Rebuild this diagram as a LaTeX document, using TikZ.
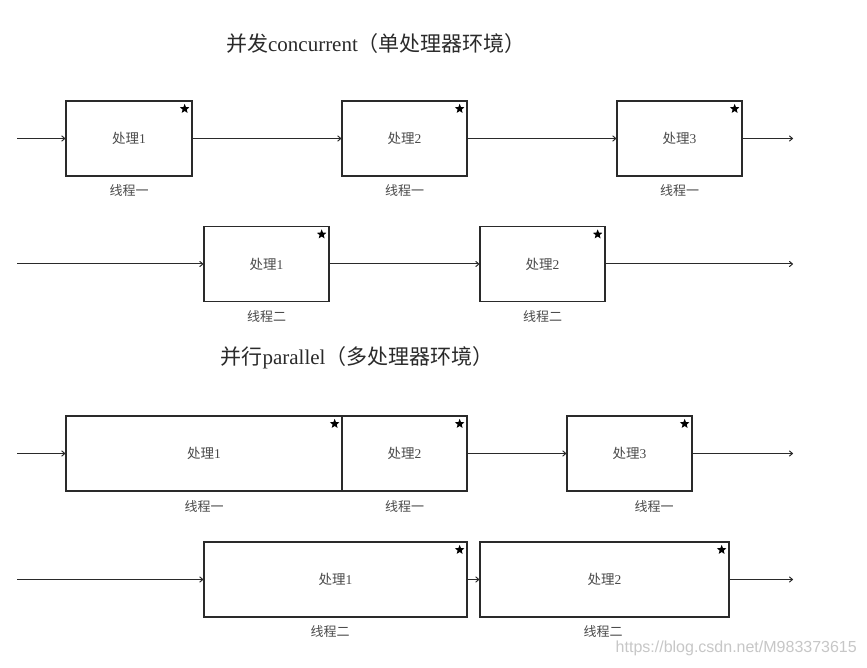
\documentclass[tikz,border=0pt]{standalone}
\usepackage{fontspec}
\setmainfont{Liberation Serif}
\newfontfamily\cjk{Noto Sans CJK SC}
\newfontfamily\wmfont{Liberation Sans}
\usetikzlibrary{shapes.geometric,arrows.meta}
\definecolor{ink}{HTML}{2A2A2A}
\definecolor{txt}{HTML}{4A4A4A}
\tikzset{
  procbox/.style={draw=ink,line width=1.3pt,minimum height=75pt,inner sep=0pt,text=txt,font=\fontsize{13.5}{15}\selectfont},
  thr/.style={text=txt,font=\cjk\fontsize{13}{15}\selectfont,inner sep=0pt},
  ttl/.style={text=ink,font=\fontsize{21}{25}\selectfont,inner sep=0pt},
  arr/.style={draw=ink,line width=1pt,-{To[length=4pt,width=6pt]}},
  starmark/.style={star,star points=5,star point ratio=2.3,fill=black,draw=none,minimum size=10pt,inner sep=0pt},
  wm/.style={text=black!22,font=\wmfont\fontsize{16}{18}\selectfont,inner sep=0pt}
}
\begin{document}
\begin{tikzpicture}[x=1pt,y=-1pt]
\useasboundingbox[fill=white] (0,0) rectangle (867,668);
% titles
\node[ttl] (t1) at (376,44) {{\cjk 并发}concurrent{\cjk （单处理器环境）}};
\node[ttl] (t2) at (357,358) {{\cjk 并行}parallel{\cjk （多处理器环境）}};
% row 1
\node[procbox,minimum width=126pt] (a1) at (129,138.5) {{\cjk 处理}1};
\node[procbox,minimum width=125pt] (a2) at (404.5,138.5) {{\cjk 处理}2};
\node[procbox,minimum width=125pt] (a3) at (679.5,138.5) {{\cjk 处理}3};
\node[thr] (la1) at (129,191) {线程一};
\node[thr] (la2) at (404.5,191) {线程一};
\node[thr] (la3) at (679.5,191) {线程一};
\coordinate (as) at (17,138.5);
\coordinate (ae) at (793,138.5);
\draw[arr] (as) -- (a1);
\draw[arr] (a1) -- (a2);
\draw[arr] (a2) -- (a3);
\draw[arr] (a3) -- (ae);
% row 2
\node[procbox,minimum width=125pt] (b1) at (266.5,264) {{\cjk 处理}1};
\node[procbox,minimum width=125pt] (b2) at (542.5,264) {{\cjk 处理}2};
\node[thr] (lb1) at (266.5,317) {线程二};
\node[thr] (lb2) at (542.5,317) {线程二};
\coordinate (bs) at (17,264);
\coordinate (be) at (793,264);
\draw[arr] (bs) -- (b1);
\draw[arr] (b1) -- (b2);
\draw[arr] (b2) -- (be);
% row 3
\node[procbox,minimum width=276pt] (c1) at (204,453.5) {{\cjk 处理}1};
\node[procbox,minimum width=125pt] (c2) at (404.5,453.5) {{\cjk 处理}2};
\node[procbox,minimum width=125pt] (c3) at (629.5,453.5) {{\cjk 处理}3};
\node[thr] (lc1) at (204,507) {线程一};
\node[thr] (lc2) at (404.5,507) {线程一};
\node[thr] (lc3) at (654,507) {线程一};
\coordinate (cs) at (17,453.5);
\coordinate (ce) at (793,453.5);
\draw[arr] (cs) -- (c1);
\draw[arr] (c2) -- (c3);
\draw[arr] (c3) -- (ce);
% row 4
\node[procbox,minimum width=263pt] (d1) at (335.5,579.5) {{\cjk 处理}1};
\node[procbox,minimum width=249pt] (d2) at (604.5,579.5) {{\cjk 处理}2};
\node[thr] (ld1) at (330,632) {线程二};
\node[thr] (ld2) at (603,632) {线程二};
\coordinate (ds) at (17,579.5);
\coordinate (de) at (793,579.5);
\draw[arr] (ds) -- (d1);
\draw[arr] (d1) -- (d2);
\draw[arr] (d2) -- (de);
% stars
\foreach \b in {a1,a2,a3,b1,b2,c1,c2,c3,d1,d2}
  \node[starmark] (s\b) at ([xshift=-8pt,yshift=-8.5pt]\b.north east) {};
% watermark
\node[wm,anchor=east] (wmk) at (857,648) {https://blog.csdn.net/M983373615};
\end{tikzpicture}
\end{document}
